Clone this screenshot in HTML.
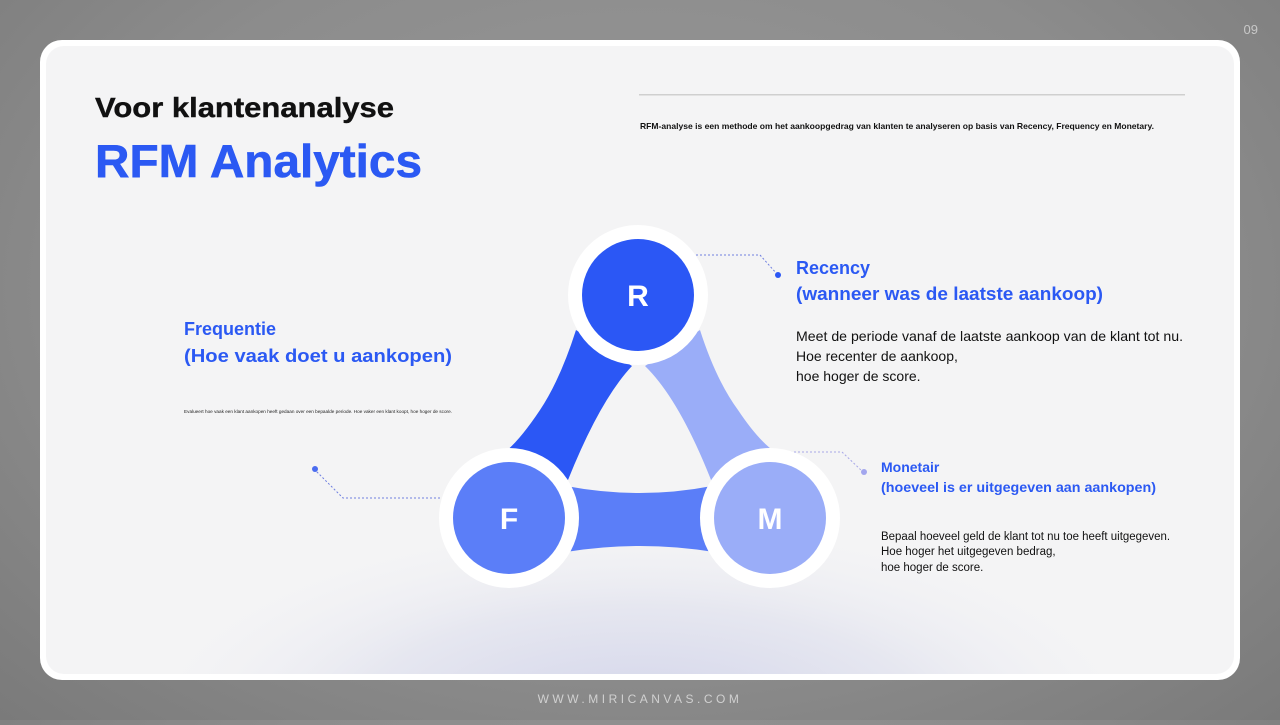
<!DOCTYPE html>
<html><head><meta charset="utf-8"><style>
html,body{margin:0;padding:0}
body{width:1280px;height:720px;overflow:hidden;background:radial-gradient(ellipse at 50% 40%,#9a9a9a 0%,#8c8c8c 60%,#7a7a7a 100%);font-family:"Liberation Sans",sans-serif}
</style></head><body>
<svg width="1280" height="720" viewBox="0 0 1280 720" xmlns="http://www.w3.org/2000/svg" font-family="Liberation Sans, sans-serif">
<defs>
<radialGradient id="glow" cx="640" cy="720" r="520" gradientUnits="userSpaceOnUse" gradientTransform="translate(0,720) scale(1,0.4) translate(0,-720)">
<stop offset="0" stop-color="#d2d4ea"/><stop offset="0.55" stop-color="#e6e7f0"/><stop offset="1" stop-color="#f4f4f6" stop-opacity="0"/>
</radialGradient>
</defs>
<text x="1258" y="34" font-size="13" fill="#c8c8c8" text-anchor="end">09</text>
<rect x="40" y="40" width="1200" height="640" rx="22" fill="#ffffff"/>
<rect x="46" y="46" width="1188" height="628" rx="18" fill="#f4f4f5"/>
<rect x="46" y="46" width="1188" height="628" rx="18" fill="url(#glow)"/>
<text x="640" y="703" font-size="12" fill="#d0d0d0" text-anchor="middle" letter-spacing="3.5">WWW.MIRICANVAS.COM</text>

<text x="95" y="117" font-size="28" font-weight="bold" fill="#111" stroke="#111" stroke-width="0.4" textLength="299" lengthAdjust="spacingAndGlyphs">Voor klantenanalyse</text>
<text x="95" y="177" font-size="46" font-weight="bold" fill="#2b59f3" stroke="#2b59f3" stroke-width="0.6" textLength="327" lengthAdjust="spacingAndGlyphs">RFM Analytics</text>

<rect x="639" y="94" width="546" height="1.5" fill="#cfcfcf"/>
<text x="640" y="129" font-size="8.3" font-weight="bold" fill="#111" textLength="514" lengthAdjust="spacingAndGlyphs">RFM-analyse is een methode om het aankoopgedrag van klanten te analyseren op basis van Recency, Frequency en Monetary.</text>

<!-- bands -->
<path d="M576 330 Q560 380 540 410 Q520 440 505 452 L568 480 Q600 400 632 366 Z" fill="#2b57f5"/>
<path d="M700 330 Q716 380 738 410 Q758 440 775 452 L713 485 Q680 400 645 366 Z" fill="#9aadf8"/>
<path d="M566 486 Q640 500 712 486 L714 552 Q640 540 566 552 Z" fill="#5b7ef8"/>

<!-- connectors -->
<g fill="none" stroke="#6f7fe0" stroke-width="1" stroke-dasharray="2 2">
<path d="M696 255 L760 255 L777 274"/>
<path d="M440 498 L343 498 L315 470"/>
<path d="M790 452 L842 452 L863 472" stroke="#a8a8e8"/>
</g>
<circle cx="778" cy="275" r="3" fill="#2b57f5"/>
<circle cx="315" cy="469" r="3" fill="#4a6cf0"/>
<circle cx="864" cy="472" r="3" fill="#a2a6ee"/>

<!-- circles -->
<circle cx="638" cy="295" r="70" fill="#fff"/>
<circle cx="638" cy="295" r="56" fill="#2b57f5"/>
<text x="638" y="306" font-size="30" font-weight="bold" fill="#fff" text-anchor="middle">R</text>
<circle cx="509" cy="518" r="70" fill="#fff"/>
<circle cx="509" cy="518" r="56" fill="#5b7ef8"/>
<text x="509" y="529" font-size="30" font-weight="bold" fill="#fff" text-anchor="middle">F</text>
<circle cx="770" cy="518" r="70" fill="#fff"/>
<circle cx="770" cy="518" r="56" fill="#9aadf8"/>
<text x="770" y="529" font-size="30" font-weight="bold" fill="#fff" text-anchor="middle">M</text>

<!-- Recency -->
<text x="796" y="274" font-size="18" font-weight="bold" fill="#2b59f3">Recency</text>
<text x="796" y="300" font-size="18" font-weight="bold" fill="#2b59f3" textLength="307" lengthAdjust="spacingAndGlyphs">(wanneer was de laatste aankoop)</text>
<text x="796" y="341" font-size="14" fill="#111" textLength="387" lengthAdjust="spacingAndGlyphs">Meet de periode vanaf de laatste aankoop van de klant tot nu.</text>
<text x="796" y="361" font-size="14" fill="#111">Hoe recenter de aankoop,</text>
<text x="796" y="381" font-size="14" fill="#111">hoe hoger de score.</text>

<!-- Frequentie -->
<text x="184" y="335" font-size="18" font-weight="bold" fill="#2b59f3">Frequentie</text>
<text x="184" y="362" font-size="18" font-weight="bold" fill="#2b59f3" textLength="268" lengthAdjust="spacingAndGlyphs">(Hoe vaak doet u aankopen)</text>
<text x="184" y="413" font-size="4.5" fill="#222" textLength="268" lengthAdjust="spacingAndGlyphs">Evalueert hoe vaak een klant aankopen heeft gedaan over een bepaalde periode. Hoe vaker een klant koopt, hoe hoger de score.</text>

<!-- Monetair -->
<text x="881" y="472" font-size="14" font-weight="bold" fill="#2b59f3">Monetair</text>
<text x="881" y="492" font-size="14" font-weight="bold" fill="#2b59f3" textLength="275" lengthAdjust="spacingAndGlyphs">(hoeveel is er uitgegeven aan aankopen)</text>
<text x="881" y="540" font-size="11.5" fill="#111" textLength="289" lengthAdjust="spacingAndGlyphs">Bepaal hoeveel geld de klant tot nu toe heeft uitgegeven.</text>
<text x="881" y="555" font-size="11.5" fill="#111">Hoe hoger het uitgegeven bedrag,</text>
<text x="881" y="571" font-size="11.5" fill="#111">hoe hoger de score.</text>
</svg>
</body></html>
